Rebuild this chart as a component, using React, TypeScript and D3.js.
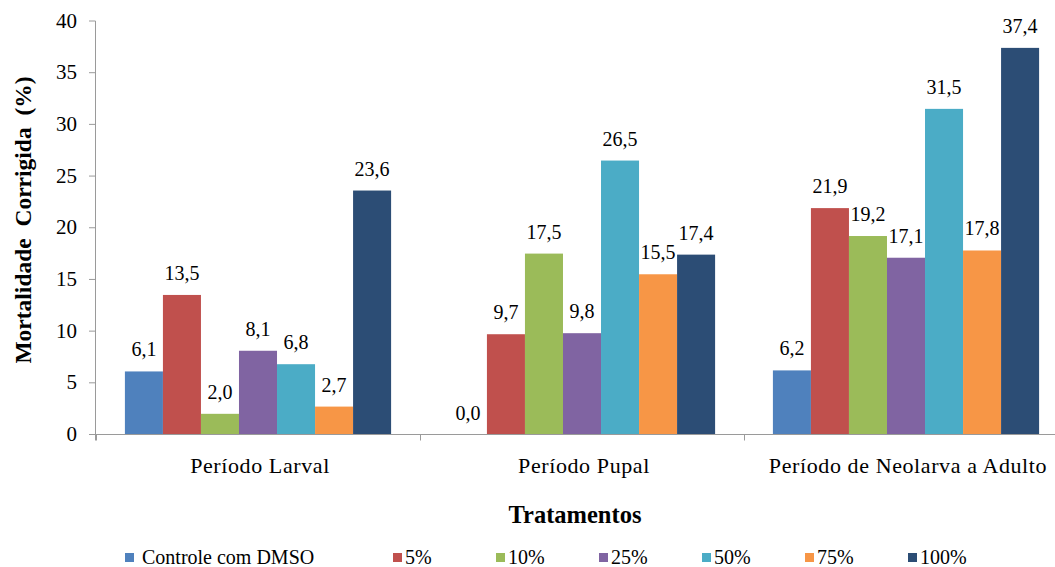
import React from "react";
import * as d3 from "d3";

const categories = ["Período Larval", "Período Pupal", "Período de Neolarva a Adulto"];
const seriesNames = ["Controle com DMSO", "5%", "10%", "25%", "50%", "75%", "100%"];
const seriesColors = ["#4F81BD", "#C0504D", "#9BBB59", "#8064A2", "#4BACC6", "#F79646", "#2C4D75"];
const larvalValues = [6.1, 13.5, 2.0, 8.1, 6.8, 2.7, 23.6];
const pupalValues = [0.0, 9.7, 17.5, 9.8, 26.5, 15.5, 17.4];
const neolarvaValues = [6.2, 21.9, 19.2, 17.1, 31.5, 17.8, 37.4];
const yTicks = [0, 5, 10, 15, 20, 25, 30, 35, 40];

const groupValues = [larvalValues, pupalValues, neolarvaValues];

const W = 1055;
const H = 567;
const FONT = "'Liberation Serif', 'Times New Roman', Times, serif";
const ts = { fontFamily: FONT } as React.CSSProperties;

export default function App() {
  const x0 = d3.scaleBand<string>().domain(categories).range([96, 1068]).paddingInner(0).paddingOuter(0);
  const x1 = d3
    .scaleBand<string>()
    .domain(seriesNames)
    .range([0, x0.bandwidth()])
    .paddingOuter(0.76)
    .paddingInner(0);
  const y = d3.scaleLinear().domain([0, 40]).range([434.5, 21]);
  const fmt = (v: number) => v.toFixed(1).replace(".", ",");

  const axisColor = "#9a9a9a";
  const boundaries = categories.map((c) => x0(c) as number);

  return (
    <svg width={W} height={H} style={{ position: "absolute", left: 0, top: 0, background: "#fff" }} fontFamily={FONT}>
      <rect x={0} y={0} width={W} height={H} fill="#fff" />
      {/* bars */}
      {categories.map((c, ci) => (
        <g key={c} transform={`translate(${x0(c)},0)`}>
          {groupValues[ci].map((v, si) => {
            const bx = x1(seriesNames[si]) as number;
            return (
              <g key={si}>
                <rect x={bx} y={y(v)} width={x1.bandwidth()} height={y(0) - y(v)} fill={seriesColors[si]} />
                <text
                  x={bx + x1.bandwidth() / 2}
                  y={y(v) - 15}
                  textAnchor="middle"
                  fontSize={20}
                  fill="#000"
                  style={ts}
                >
                  {fmt(v)}
                </text>
              </g>
            );
          })}
        </g>
      ))}
      {/* y axis */}
      <line x1={95.5} x2={95.5} y1={y(40)} y2={y(0) + 6} stroke={axisColor} strokeWidth={1} />
      {yTicks.map((t) => (
        <g key={t}>
          <line x1={89} x2={95.5} y1={y(t)} y2={y(t)} stroke={axisColor} strokeWidth={1} />
          <text x={77} y={y(t) + 6.5} textAnchor="end" fontSize={21} fill="#000" style={ts}>
            {t}
          </text>
        </g>
      ))}
      {/* x axis */}
      <line x1={95.5} x2={W} y1={y(0)} y2={y(0)} stroke={axisColor} strokeWidth={1} />
      {boundaries.map((b, i) => (
        <line key={i} x1={b + 0.5} x2={b + 0.5} y1={y(0)} y2={y(0) + 6} stroke={axisColor} strokeWidth={1} />
      ))}
      {categories.map((c) => (
        <text
          key={c}
          x={(x0(c) as number) + x0.bandwidth() / 2 + 2}
          y={473}
          textAnchor="middle"
          fontSize={22}
          letterSpacing={0.6}
          fill="#000"
          style={ts}
        >
          {c}
        </text>
      ))}
      {/* axis titles */}
      <text x={575} y={523} textAnchor="middle" fontSize={24.5} fontWeight="bold" fill="#000" style={ts}>
        Tratamentos
      </text>
      <text
        transform="translate(31,220) rotate(-90)"
        textAnchor="middle"
        fontSize={23.5}
        fontWeight="bold"
        fill="#000"
        style={{ ...ts, whiteSpace: "pre" }}
      >
        {"Mortalidade  Corrigida  (%)"}
      </text>
      {/* legend */}
      {seriesNames.map((s, i) => {
        const lx = i === 0 ? 125 : 393 + (i - 1) * 103;
        const tx = i === 0 ? lx + 17 : lx + 12;
        return (
          <g key={s}>
            <rect x={lx} y={553} width={9} height={9} fill={seriesColors[i]} />
            <text x={tx} y={564} fontSize={20} fill="#000" style={ts}>
              {s}
            </text>
          </g>
        );
      })}
    </svg>
  );
}
